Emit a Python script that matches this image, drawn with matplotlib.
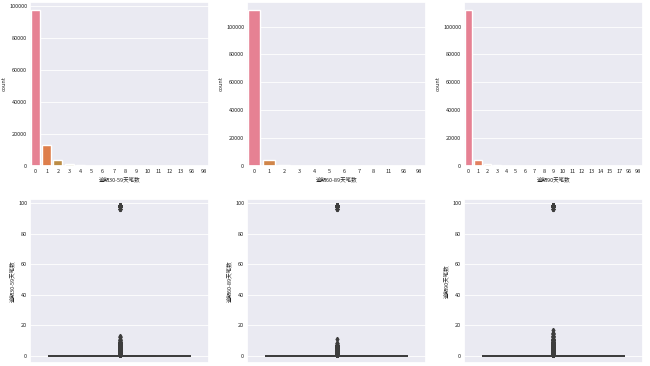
import numpy as np
import pandas as pd
import matplotlib
matplotlib.use("Agg")
import matplotlib.pyplot as plt
import seaborn as sns

# --- data ---
names = ["逾期30-59天笔数", "逾期60-89天笔数", "逾期90天笔数"]

cats_3059 = [0, 1, 2, 3, 4, 5, 6, 7, 8, 9, 10, 11, 12, 13, 96, 98]
counts_3059 = [97700, 13300, 3900, 1500, 620, 280, 110, 45, 20, 10, 3, 1, 2, 1, 4, 180]

cats_6089 = [0, 1, 2, 3, 4, 5, 6, 7, 8, 11, 96, 98]
counts_6089 = [112000, 4700, 900, 260, 85, 28, 13, 7, 2, 1, 4, 205]

cats_90 = [0, 1, 2, 3, 4, 5, 6, 7, 8, 9, 10, 11, 12, 13, 14, 15, 17, 96, 98]
counts_90 = [112000, 4200, 1250, 530, 230, 105, 62, 30, 16, 15, 6, 4, 2, 3, 2, 2, 1, 4, 206]

all_cats = [cats_3059, cats_6089, cats_90]
all_counts = [counts_3059, counts_6089, counts_90]

sns.set_theme(style="darkgrid", rc={"grid.linewidth": 0.6})
plt.rcParams['font.family'] = ['Noto Sans CJK SC', 'DejaVu Sans']
plt.rcParams['axes.unicode_minus'] = False

fig, axes = plt.subplots(2, 3, figsize=(6.5, 3.66), dpi=100)
fig.subplots_adjust(left=30/650, right=643/650, top=1-2/366, bottom=1-363/366,
                    wspace=0.212, hspace=0.2)

fs = 4
for i in range(3):
    cats = [str(c) for c in all_cats[i]]
    counts = all_counts[i]
    ax = axes[0, i]
    pal = sns.color_palette("husl", len(cats))
    sns.barplot(x=cats, y=counts, hue=cats, palette=pal, legend=False,
                order=cats, hue_order=cats, ax=ax, saturation=0.75)
    ax.set_xlabel(names[i], fontsize=fs, labelpad=2)
    ax.set_ylabel("count", fontsize=fs, labelpad=2)
    ax.tick_params(labelsize=fs, pad=2, length=0)

    # rebuild raw column from counts for the box plot
    raw = np.repeat(np.array(all_cats[i]), np.array(counts))
    df = pd.DataFrame({names[i]: raw})
    axb = axes[1, i]
    sns.boxplot(y=names[i], data=df, ax=axb, linewidth=1.3,
                color=sns.color_palette()[0], linecolor="#3d3d3d",
                flierprops=dict(marker="d", markersize=2.2,
                                markerfacecolor="#3d3d3d",
                                markeredgecolor="#3d3d3d"))
    axb.set_ylabel(names[i], fontsize=fs, labelpad=2)
    axb.set_xlabel("")
    axb.tick_params(labelsize=fs, pad=2, length=0)

fig.savefig("out.png", dpi=100)
